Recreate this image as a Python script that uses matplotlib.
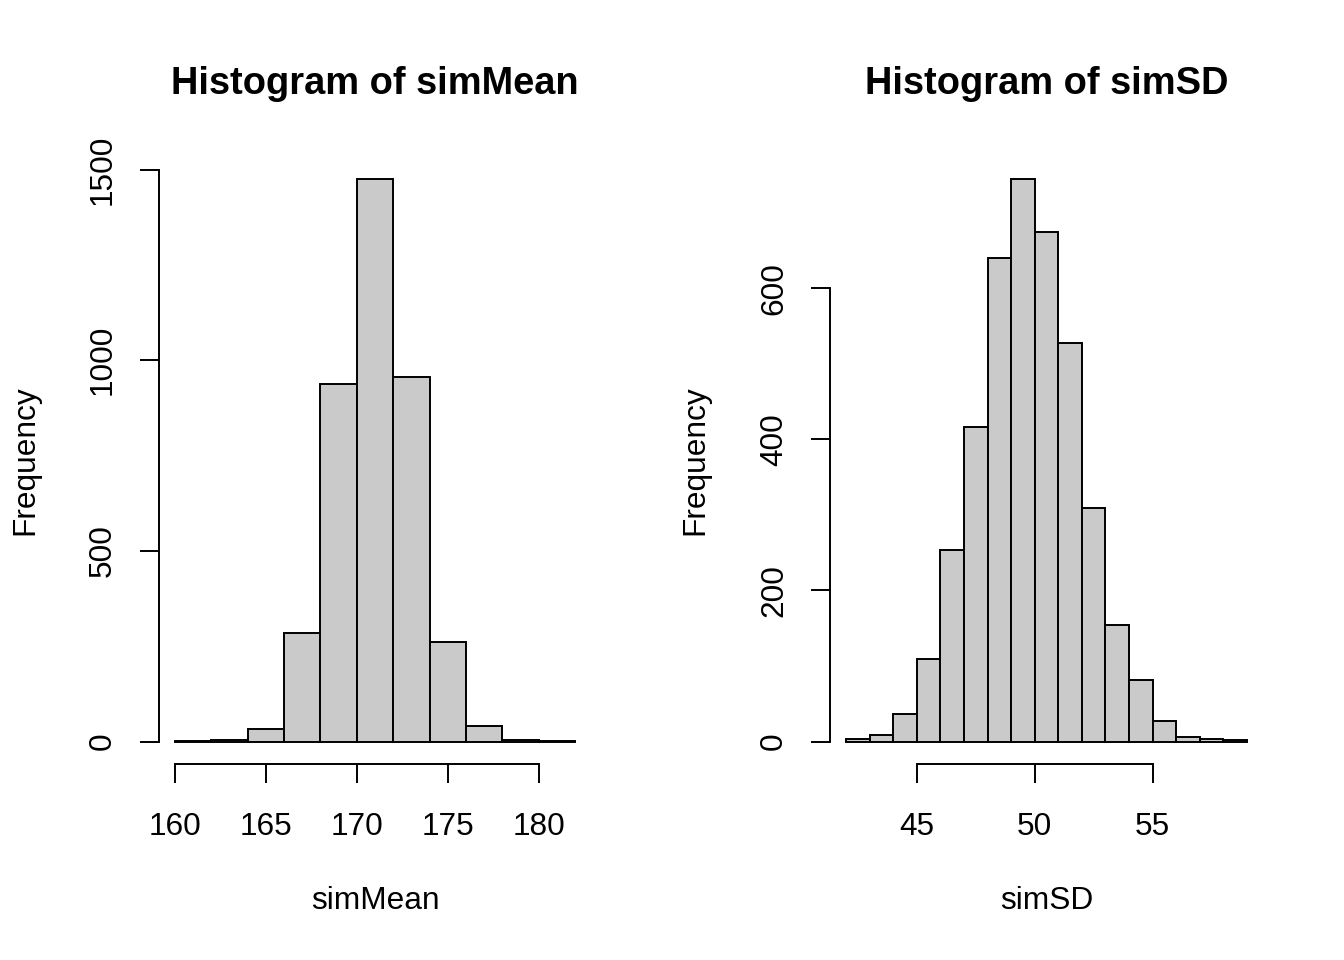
import numpy as np
import matplotlib
matplotlib.use("Agg")
import matplotlib.pyplot as plt

# bin edges and counts
mean_edges = np.arange(160, 184, 2)
mean_counts = [1, 5, 32, 285, 937, 1474, 956, 260, 41, 4, 1]

sd_edges = np.arange(42, 60, 1)
sd_counts = [3, 9, 36, 109, 253, 417, 640, 744, 674, 528, 309, 154, 82, 27, 6, 3, 2]

mean_xticks = [160, 165, 170, 175, 180]
mean_yticks = [0, 500, 1000, 1500]
sd_xticks = [45, 50, 55]
sd_yticks = [0, 200, 400, 600]

plt.rcParams['font.family'] = ['Liberation Sans', 'DejaVu Sans']
lab_size = 22.8
title_size = 27.4
fill = "#CACACA"

fig = plt.figure(figsize=(13.44, 9.6), dpi=100)
W, H = 1344, 960


def r_hist(box, edges, counts, xticks, yticks, title, xlab):
    x0, x1, ytop, ybot = box
    ax = fig.add_axes([x0 / W, 1 - ybot / H, (x1 - x0) / W, (ybot - ytop) / H])
    edges = np.asarray(edges, dtype=float)
    ax.bar(edges[:-1], counts, width=np.diff(edges), align='edge',
           color=fill, edgecolor='black', linewidth=1.4)
    xr = edges[-1] - edges[0]
    ax.set_xlim(edges[0] - 0.04 * xr, edges[-1] + 0.04 * xr)
    ym = max(counts)
    ax.set_ylim(-0.04 * ym, ym * 1.04)
    for s in ['top', 'right']:
        ax.spines[s].set_visible(False)
    ax.spines['left'].set_bounds(yticks[0], yticks[-1])
    ax.spines['bottom'].set_bounds(xticks[0], xticks[-1])
    for s in ['left', 'bottom']:
        ax.spines[s].set_linewidth(1.4)
    ax.set_xticks(xticks)
    ax.set_yticks(yticks)
    ax.set_yticklabels([str(v) for v in yticks], rotation=90, va='center')
    ax.tick_params(axis='both', direction='out', length=13.5, width=1.4,
                   labelsize=lab_size)
    ax.tick_params(axis='x', pad=21)
    ax.tick_params(axis='y', pad=16)
    ax.set_title(title, fontsize=title_size, fontweight='bold', y=1.09)
    ax.text(0.5, -0.226, xlab, transform=ax.transAxes, ha='center',
            va='center', fontsize=lab_size)
    ax.text(-0.31, 0.5, 'Frequency', transform=ax.transAxes, ha='center',
            va='center', rotation=90, fontsize=lab_size)
    return ax


r_hist((159, 591, 157, 764), mean_edges, mean_counts, mean_xticks,
       mean_yticks, 'Histogram of simMean', 'simMean')
r_hist((830, 1263, 157, 764), sd_edges, sd_counts, sd_xticks,
       sd_yticks, 'Histogram of simSD', 'simSD')

fig.savefig('out.png', dpi=100)
